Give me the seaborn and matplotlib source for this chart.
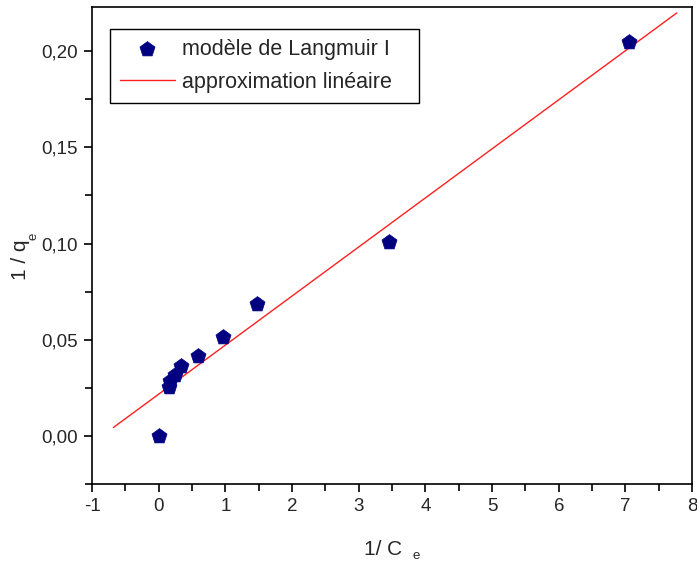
import numpy as np
import pandas as pd
import matplotlib
matplotlib.use("Agg")
import matplotlib.pyplot as plt
from matplotlib.ticker import MultipleLocator, FuncFormatter
import seaborn as sns

# Langmuir I linearisation: 1/qe versus 1/Ce
inv_ce = [0.00, 0.155, 0.17, 0.245, 0.33, 0.59, 0.96, 1.47, 3.45, 7.05]
inv_qe = [0.000, 0.0253, 0.0287, 0.0317, 0.0365, 0.0414, 0.0513, 0.0685, 0.101, 0.205]

# fitted straight line
fit_slope = 0.02551
fit_intercept = 0.0217
fit_x = [-0.68, 7.77]

sns.set_style("ticks")
plt.rcParams["font.family"] = ["Liberation Sans", "DejaVu Sans"]
plt.rcParams["axes.unicode_minus"] = False

fig = plt.figure(figsize=(6.97, 5.67), dpi=100)
ax = fig.add_axes([0.132, 0.1464, 0.861, 0.8413])

pts = pd.DataFrame({"x": inv_ce, "y": inv_qe})
line = pd.DataFrame({"x": fit_x, "y": [fit_intercept + fit_slope * v for v in fit_x]})

sns.scatterplot(data=pts, x="x", y="y", ax=ax, marker="p", s=130,
                color="#000080", edgecolor="#000080", linewidth=0.5,
                label="modèle de Langmuir I", zorder=3)
sns.lineplot(data=line, x="x", y="y", ax=ax, color="#ff2020", linewidth=1.0,
             label="approximation linéaire", zorder=2)

ax.set_xlim(-1, 8)
ax.set_ylim(-0.025, 0.223)
ax.xaxis.set_major_locator(MultipleLocator(1))
ax.xaxis.set_minor_locator(MultipleLocator(0.5))
ax.yaxis.set_major_locator(MultipleLocator(0.05))
ax.yaxis.set_minor_locator(MultipleLocator(0.025))
ax.yaxis.set_major_formatter(FuncFormatter(lambda v, p: f"{v:.2f}".replace(".", ",").replace("-0,00", "0,00")))
ax.xaxis.set_major_formatter(FuncFormatter(lambda v, p: f"{v:.0f}"))

ax.tick_params(which="major", direction="out", length=6, width=1.2, labelsize=13.5,
               color="black", pad=4)
ax.tick_params(which="minor", direction="out", length=5, width=1.2, color="black")
for s in ax.spines.values():
    s.set_linewidth(1.2)
    s.set_color("black")

# axis titles with a small, lowered subscript "e"
ax.set_xlabel("1/ C", fontsize=15, labelpad=18)
ax.xaxis.label.set_x(0.485)
ax.set_ylabel("1 / q", fontsize=15, labelpad=8)
ax.yaxis.label.set_y(0.47)
ax.annotate("e", xy=(1.0, 0.0), xycoords=ax.xaxis.label, xytext=(10, -3),
            textcoords="offset pixels", fontsize=9.5, ha="left", va="bottom")
ax.annotate("e", xy=(1.0, 1.0), xycoords=ax.yaxis.label, xytext=(3, 0),
            textcoords="offset pixels", fontsize=9.5, ha="center", va="bottom",
            rotation=90)

leg = ax.legend(loc="upper left", bbox_to_anchor=(0.03, 0.953, 0.515, 0.0),
                mode="expand", fontsize=15.5,
                frameon=True, fancybox=False, edgecolor="black", framealpha=1,
                handlelength=2.55, borderpad=0.45, labelspacing=0.55, handletextpad=0.35,
                borderaxespad=0)
leg.get_frame().set_linewidth(1.0)

fig.savefig("out.png", dpi=100)
